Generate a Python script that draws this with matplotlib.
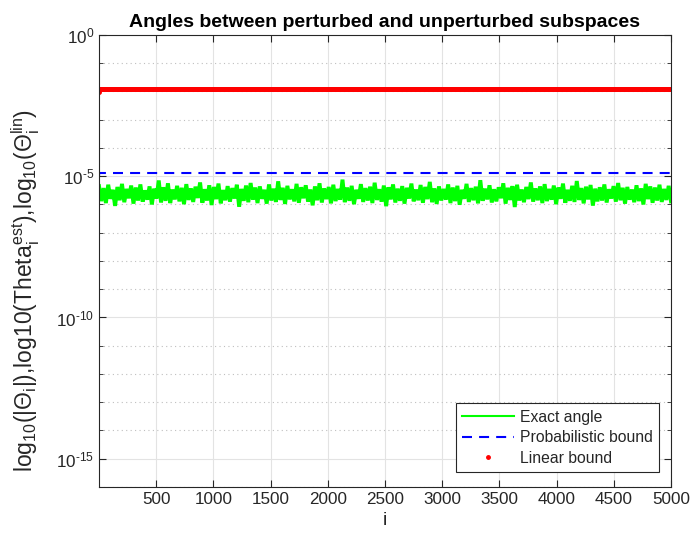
import matplotlib
matplotlib.use('Agg')
import matplotlib.pyplot as plt
import matplotlib.ticker as mtick
import numpy as np

plt.rcParams['font.family'] = ['Liberation Sans', 'DejaVu Sans']
plt.rcParams['mathtext.fontset'] = 'custom'
plt.rcParams['mathtext.rm'] = 'Liberation Sans'
plt.rcParams['mathtext.it'] = 'Liberation Sans'
plt.rcParams['mathtext.default'] = 'regular'
dpi = 100

# Index of the subspace angle
n_angles = 5000

exact_log = [
    -5.35, -5.88, -5.42, -5.95, -5.30, -5.80, -5.48, -6.05, -5.38, -5.85,
    -5.27, -5.92, -5.45, -5.78, -5.33, -5.97, -5.40, -5.86, -5.29, -5.90,
    -5.50, -5.83, -5.36, -6.00, -5.44, -5.79, -5.15, -5.93, -5.39, -5.87,
    -5.25, -5.95, -5.47, -5.82, -5.34, -5.89, -5.41, -5.99, -5.28, -5.84,
    -5.43, -5.91, -5.37, -5.77, -5.22, -5.94, -5.46, -5.86, -5.32, -6.02,
    -5.38, -5.81, -5.26, -5.96, -5.49, -5.85, -5.35, -5.90, -5.42, -5.79,
    -5.30, -6.08, -5.45, -5.87, -5.33, -5.92, -5.24, -5.83, -5.40, -5.95,
    -5.36, -5.80, -5.48, -5.97, -5.29, -5.86, -5.44, -5.91, -5.18, -5.84,
    -5.41, -5.98, -5.34, -5.82, -5.46, -5.89, -5.27, -5.94, -5.39, -5.78,
    -5.32, -5.90, -5.47, -6.03, -5.36, -5.85, -5.25, -5.93, -5.43, -5.81,
    -5.38, -5.96, -5.30, -5.88, -5.45, -5.83, -5.12, -5.92, -5.40, -5.87,
    -5.34, -5.99, -5.48, -5.80, -5.28, -5.91, -5.42, -5.86, -5.37, -5.95,
    -5.23, -5.84, -5.46, -5.90, -5.33, -6.06, -5.39, -5.82, -5.29, -5.93,
    -5.44, -5.87, -5.35, -5.97, -5.41, -5.79, -5.26, -5.89, -5.47, -5.85,
    -5.31, -5.94, -5.38, -5.81, -5.20, -5.92, -5.43, -5.98, -5.36, -5.86,
    -5.45, -5.83, -5.29, -5.95, -5.40, -5.88, -5.34, -6.01, -5.48, -5.80,
    -5.27, -5.91, -5.42, -5.85, -5.37, -5.96, -5.14, -5.87, -5.44, -5.82,
    -5.32, -5.93, -5.46, -5.89, -5.39, -5.78, -5.25, -5.97, -5.41, -5.84,
    -5.35, -6.09, -5.30, -5.86, -5.47, -5.92, -5.38, -5.81, -5.22, -5.90,
    -5.43, -5.85, -5.36, -5.95, -5.28, -5.88, -5.45, -5.83, -5.33, -5.99,
    -5.40, -5.80, -5.26, -5.94, -5.48, -5.87, -5.34, -5.91, -5.17, -5.84,
    -5.42, -5.96, -5.37, -5.82, -5.31, -6.04, -5.44, -5.89, -5.39, -5.86,
    -5.29, -5.93, -5.46, -5.79, -5.35, -5.90, -5.24, -5.85, -5.41, -5.97,
    -5.38, -5.83, -5.47, -5.92, -5.32, -5.88, -5.43, -6.00, -5.27, -5.81,
    -5.36, -5.94, -5.40, -5.86, -5.30, -5.91, -5.45, -5.84, -5.34, -5.89,
]

# Bounds: first value, then the constant level for the rest
prob_first, prob_level = 1.0e-5, 1.3e-5
lin_first, lin_level = 9.5e-3, 1.23e-2

x_ticks = [500, 1000, 1500, 2000, 2500, 3000, 3500, 4000, 4500, 5000]
y_ticks = [1e-15, 1e-10, 1e-5, 1e0]
y_ticklabels = [r'$10^{\text{-15}}$', r'$10^{\text{-10}}$',
                r'$10^{\text{-5}}$', r'$10^{0}$']

i_all = np.arange(1, n_angles + 1)
i_exact = np.linspace(1, n_angles, len(exact_log))
exact = 10.0 ** np.array(exact_log)
prob_bound = np.full(n_angles, prob_level)
prob_bound[0] = prob_first
lin_bound = np.full(n_angles, lin_level)
lin_bound[0] = lin_first

fig = plt.figure(figsize=(691 / dpi, 538 / dpi), dpi=dpi)
ax = fig.add_axes([0.1433, 0.0948, 0.8277, 0.8402])

dark = '#262626'
ax.semilogy(i_exact, exact, color='#00ff00', linewidth=2.8,
            solid_joinstyle='miter', label='Exact angle')
ax.semilogy(i_all, prob_bound, color='#0000ff', linewidth=1.5,
            dashes=(4.8, 3.4), label='Probabilistic bound')
ax.semilogy(i_all, lin_bound, '.', color='#ff0000', markersize=5,
            label='Linear bound')

ax.set_xlim(1, n_angles)
ax.set_ylim(1e-16, 1e0)
ax.set_xticks(x_ticks)
ax.set_yticks(y_ticks)
ax.set_yticklabels(y_ticklabels)
ax.yaxis.set_minor_locator(mtick.LogLocator(base=10, subs=(1.0,), numticks=40))
ax.yaxis.set_minor_formatter(mtick.NullFormatter())

ax.grid(True, which='major', color='#e3e3e3', linewidth=0.8, linestyle='-')
ax.grid(True, which='minor', axis='y', color='#bfbfbf', linewidth=0.8,
        linestyle=(0, (1, 3)))
ax.set_axisbelow(True)

ax.tick_params(which='both', direction='in', top=True, right=True,
               colors=dark, labelsize=12.3)
ax.tick_params(which='major', length=5)
ax.tick_params(which='minor', length=3)
for s in ax.spines.values():
    s.set_color(dark)
    s.set_linewidth(0.8)

ax.set_title('Angles between perturbed and unperturbed subspaces',
             fontsize=14, fontweight='bold', color='black', pad=6)
ax.set_xlabel('i', fontsize=14, color=dark)
ax.set_ylabel(r'log$_{10}$(|$\Theta_i$|),log10(Theta$_i^{est}$),'
              r'log$_{10}$($\Theta_i^{lin}$)', fontsize=16.5, color=dark)
ax.yaxis.set_label_coords(-0.100, 0.435)

leg = ax.legend(loc='lower right', bbox_to_anchor=(659 / 691, 66 / 538),
                bbox_transform=fig.transFigure, borderaxespad=0,
                fontsize=11.3, fancybox=False, framealpha=1,
                edgecolor=dark, handlelength=3.3, handletextpad=0.4,
                labelspacing=0.35)
leg.get_frame().set_linewidth(0.8)
leg.legend_handles[0].set_linewidth(1.5)
for t in leg.get_texts():
    t.set_color(dark)

fig.savefig('out.png', dpi=dpi)
